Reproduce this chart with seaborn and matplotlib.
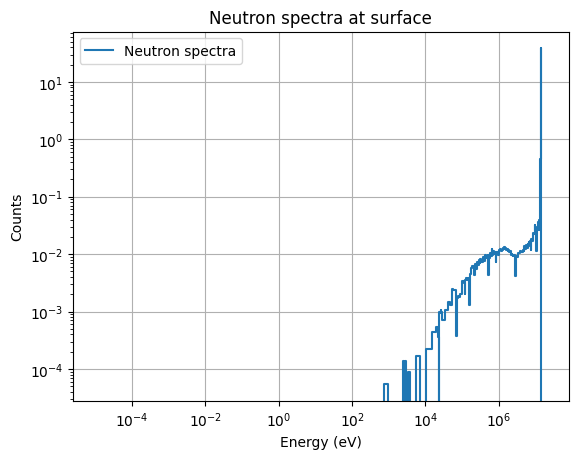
"""
Neutron spectra at surface
Step plot of tallied neutron counts per energy group (log-log)
"""

import numpy as np
import matplotlib
matplotlib.use('Agg')
import matplotlib.pyplot as plt
import seaborn as sns

# Energy group edges (eV)
energy_bins = [
    1.0000e-5, 1.0000e-1, 4.1399e-1, 5.3158e-1, 6.8256e-1, 8.7643e-1,
    1.1253e+0, 1.4450e+0, 1.8554e+0, 2.3824e+0, 3.0590e+0, 3.9279e+0,
    5.0435e+0, 6.4759e+0, 8.3153e+0, 1.0677e+1, 1.3710e+1, 1.7604e+1,
    2.2603e+1, 2.9023e+1, 3.7266e+1, 4.7851e+1, 6.1442e+1, 7.8893e+1,
    1.0130e+2, 1.3007e+2, 1.6702e+2, 2.1445e+2, 2.7536e+2, 3.5357e+2,
    4.5400e+2, 5.8295e+2, 7.4852e+2, 9.6112e+2, 1.2341e+3, 1.5846e+3,
    2.0347e+3, 2.2487e+3, 2.4852e+3, 2.6126e+3, 2.7465e+3, 3.0354e+3,
    3.3546e+3, 3.7074e+3, 4.3074e+3, 5.5308e+3, 7.1017e+3, 9.1188e+3,
    1.0595e+4, 1.1709e+4, 1.5034e+4, 1.9305e+4, 2.1875e+4, 2.3579e+4,
    2.4176e+4, 2.4788e+4, 2.6058e+4, 2.7000e+4, 2.8501e+4, 3.1828e+4,
    3.4307e+4, 4.0868e+4, 4.6309e+4, 5.2475e+4, 5.6562e+4, 6.7379e+4,
    7.2000e+4, 7.9500e+4, 8.2500e+4, 8.6517e+4, 9.8037e+4, 1.1109e+5,
    1.1679e+5, 1.2277e+5, 1.2907e+5, 1.3569e+5, 1.4264e+5, 1.4996e+5,
    1.5764e+5, 1.6573e+5, 1.7422e+5, 1.8316e+5, 1.9255e+5, 2.0242e+5,
    2.1280e+5, 2.2371e+5, 2.3518e+5, 2.4724e+5, 2.7324e+5, 2.8725e+5,
    2.9452e+5, 2.9720e+5, 2.9850e+5, 3.0197e+5, 3.3373e+5, 3.6883e+5,
    3.8774e+5, 4.0762e+5, 4.5049e+5, 4.9787e+5, 5.2340e+5, 5.5023e+5,
    5.7844e+5, 6.0810e+5, 6.3928e+5, 6.7206e+5, 7.0651e+5, 7.4274e+5,
    7.8082e+5, 8.2085e+5, 8.6294e+5, 9.0718e+5, 9.6164e+5, 1.0026e+6,
    1.1080e+6, 1.1648e+6, 1.2246e+6, 1.2873e+6, 1.3534e+6, 1.4227e+6,
    1.4957e+6, 1.5724e+6, 1.6530e+6, 1.7377e+6, 1.8268e+6, 1.9205e+6,
    2.0190e+6, 2.1225e+6, 2.2313e+6, 2.3069e+6, 2.3457e+6, 2.3653e+6,
    2.3851e+6, 2.4660e+6, 2.5924e+6, 2.7253e+6, 2.8650e+6, 3.0119e+6,
    3.1664e+6, 3.3287e+6, 3.6788e+6, 4.0657e+6, 4.4933e+6, 4.7237e+6,
    4.9659e+6, 5.2205e+6, 5.4881e+6, 5.7695e+6, 6.0653e+6, 6.3763e+6,
    6.5924e+6, 6.7032e+6, 7.0469e+6, 7.4082e+6, 7.7880e+6, 8.1873e+6,
    8.6071e+6, 9.0484e+6, 9.5123e+6, 1.0000e+7, 1.0513e+7, 1.1052e+7,
    1.1618e+7, 1.2214e+7, 1.2523e+7, 1.2840e+7, 1.3499e+7, 1.3840e+7,
    1.4191e+7, 1.4550e+7, 1.4918e+7, 1.5683e+7, 1.6487e+7, 1.7333e+7,
    1.9640e+7,
]

# Counts per group (one per bin, same row layout as the edges above)
neutron_counts = [
    0, 0, 0, 0, 0, 0,
    0, 0, 0, 0, 0, 0,
    0, 0, 0, 0, 0, 0,
    0, 0, 0, 0, 0, 0,
    0, 0, 0, 0, 0, 0,
    0, 0, 5.4e-5, 0, 0, 0,
    0, 0, 1.4e-4, 0, 1.35e-4, 0,
    9e-5, 0, 0, 1.7e-4, 0, 0,
    2.2e-4, 2.2e-4, 4.4e-4, 5.3e-4, 3.6e-4, 0,
    1.0e-3, 9.5e-4, 1.05e-3, 1.0e-3, 7.0e-4, 7.2e-4,
    1.05e-3, 1.45e-3, 1.3e-3, 2.5e-3, 2.4e-3, 3.7e-4,
    1.7e-3, 1.9e-3, 1.8e-3, 2.0e-3, 3.4e-3, 3.2e-3,
    2.0e-3, 3.6e-3, 3.8e-3, 3.5e-3, 3.9e-3, 3.7e-3,
    1.3e-3, 4.5e-3, 5.8e-3, 6.2e-3, 5.9e-3, 6.3e-3,
    4.3e-3, 6.8e-3, 5.6e-3, 7.4e-3, 6.4e-3, 7.8e-3,
    6.6e-3, 8.0e-3, 7.0e-3, 8.3e-3, 7.2e-3, 8.8e-3,
    7.6e-3, 9.8e-3, 8.4e-3, 9.6e-3, 4.3e-3, 8.6e-3,
    1.05e-2, 9.2e-3, 1.25e-2, 9.6e-3, 1.12e-2, 1.0e-2,
    1.1e-2, 7.4e-3, 1.0e-2, 1.1e-2, 9.8e-3, 1.2e-2,
    1.25e-2, 1.15e-2, 1.2e-2, 1.3e-2, 1.25e-2, 1.35e-2,
    1.3e-2, 1.2e-2, 1.25e-2, 1.15e-2, 1.2e-2, 1.1e-2,
    1.15e-2, 9.6e-3, 1.0e-2, 9.5e-3, 9.8e-3, 9.4e-3,
    9.6e-3, 9.8e-3, 9.5e-3, 4.2e-3, 9.0e-3, 9.4e-3,
    9.0e-3, 1.05e-2, 1.15e-2, 1.1e-2, 1.2e-2, 1.15e-2,
    1.4e-2, 1.25e-2, 1.45e-2, 1.3e-2, 1.5e-2, 1.4e-2,
    1.6e-2, 1.5e-2, 1.7e-2, 1.2e-2, 1.8e-2, 1.7e-2,
    2.3e-2, 2.2e-2, 3.2e-2, 2.5e-2, 1.15e-2, 3.0e-2,
    3.6e-2, 2.6e-2, 3.3e-2, 4.0e-2, 0.45, 38.5,
    0, 0, 0, 0, 0, 0,
]


def plot_spectra():
    """Step plot of counts vs energy"""
    energy = np.array(energy_bins)
    counts = np.array(neutron_counts, dtype=float)
    assert len(counts) == len(energy) - 1

    # repeat last value so the final bin gets its horizontal step
    y = np.append(counts, counts[-1])

    fig, ax = plt.subplots(figsize=(6.4, 4.8))
    sns.lineplot(x=energy, y=y, drawstyle='steps-post', label='Neutron spectra',
                 color='#1f77b4', linewidth=1.5, ax=ax)
    ax.set_xscale('log')
    ax.set_yscale('log')
    ax.grid(True)
    ax.legend(loc='upper left')
    ax.set_xlabel('Energy (eV)')
    ax.set_ylabel('Counts')
    ax.set_title('Neutron spectra at surface')
    plt.savefig('out.png', dpi=100, bbox_inches='tight')
    plt.close()


if __name__ == "__main__":
    plot_spectra()
